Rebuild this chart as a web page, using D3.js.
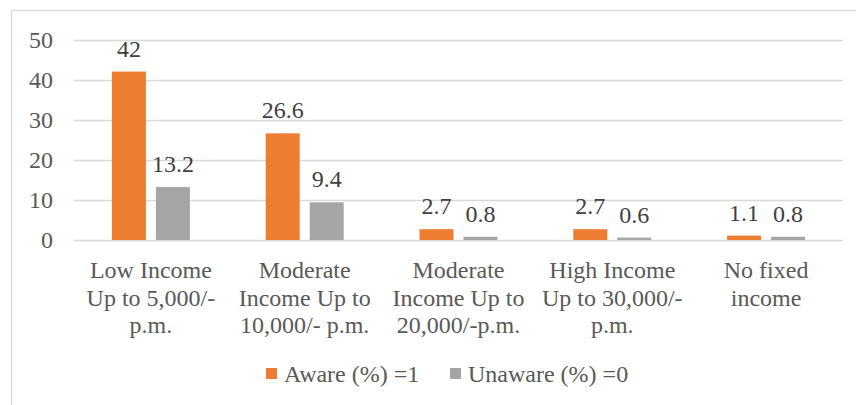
<!DOCTYPE html>
<html>
<head>
<meta charset="utf-8">
<script src="https://cdn.jsdelivr.net/npm/d3@7"></script>
<style>
  body { margin: 0; background: #fff; }
  svg, svg text { font-family: "Liberation Serif", "Times New Roman", Times, "DejaVu Serif", serif !important; }
</style>
</head>
<body>
<svg></svg>
<script>
// data
var categories = [
  ["Low Income", "Up to 5,000/-", "p.m."],
  ["Moderate", "Income Up to", "10,000/- p.m."],
  ["Moderate", "Income Up to", "20,000/-p.m."],
  ["High Income", "Up to 30,000/-", "p.m."],
  ["No fixed", "income"]
];
var aware = [42, 26.6, 2.7, 2.7, 1.1];
var unaware = [13.2, 9.4, 0.8, 0.6, 0.8];
var seriesNames = ["Aware (%) =1", "Unaware (%) =0"];
var yTicks = [0, 10, 20, 30, 40, 50];

var svgWidth = 856, svgHeight = 405;
var colors = ["#ED7D31", "#A5A5A5"];
var fontSize = "24px";

var svg = d3.select("svg").attr("width", svgWidth).attr("height", svgHeight);

// chart border (only top and left fall inside the picture)
svg.append("rect")
  .attr("x", 11.5).attr("y", 10.5)
  .attr("width", 900).attr("height", 450)
  .attr("fill", "none").attr("stroke", "#d9d9d9").attr("stroke-width", 1.5);

var plotLeft = 74, plotRight = 843, plotTop = 39.5, plotBottom = 240;

var x0 = d3.scaleBand().domain(d3.range(categories.length)).range([plotLeft, plotRight]);
var y = d3.scaleLinear().domain([0, 50]).range([plotBottom, plotTop]);

// gridlines
svg.append("g").selectAll("line")
  .data(yTicks).enter().append("line")
  .attr("x1", plotLeft).attr("x2", plotRight)
  .attr("y1", function(d) { return Math.round(y(d)) + 0.5; })
  .attr("y2", function(d) { return Math.round(y(d)) + 0.5; })
  .attr("stroke", "#d9d9d9").attr("stroke-width", 1.5);

// y axis labels
var yAxis = d3.axisLeft(y).tickValues(yTicks).tickSize(0).tickPadding(0);
var yg = svg.append("g").attr("transform", "translate(53,0)").call(yAxis);
yg.select(".domain").remove();
yg.attr("font-family", null).attr("font-size", null);
yg.selectAll("text")
  .attr("font-size", fontSize).attr("fill", "#595959");

var barW = 34, gap = 10;
var series = [aware, unaware];

series.forEach(function(vals, s) {
  var offset = s === 0 ? -(gap / 2 + barW) : gap / 2;
  var g = svg.append("g");
  g.selectAll("rect")
    .data(vals).enter().append("rect")
    .attr("x", function(d, i) { return x0(i) + x0.bandwidth() / 2 + offset; })
    .attr("y", function(d) { return y(d); })
    .attr("width", barW)
    .attr("height", function(d) { return plotBottom - y(d); })
    .attr("fill", colors[s]);
  g.selectAll("text")
    .data(vals).enter().append("text")
    .attr("x", function(d, i) { return x0(i) + x0.bandwidth() / 2 + offset + barW / 2; })
    .attr("y", function(d) { return y(d) - 15; })
    .attr("text-anchor", "middle")
    .attr("font-size", fontSize).attr("fill", "#404040")
    .text(function(d) { return d; });
});

// category labels
var cg = svg.append("g");
categories.forEach(function(lines, i) {
  var t = cg.append("text")
    .attr("x", x0(i) + x0.bandwidth() / 2)
    .attr("y", 278)
    .attr("text-anchor", "middle")
    .attr("font-size", fontSize).attr("fill", "#595959");
  lines.forEach(function(l, j) {
    t.append("tspan")
      .attr("x", x0(i) + x0.bandwidth() / 2)
      .attr("dy", j === 0 ? 0 : 27.5)
      .text(l);
  });
});

// legend
var legendX = [266, 450];
seriesNames.forEach(function(name, s) {
  svg.append("rect")
    .attr("x", legendX[s]).attr("y", 368)
    .attr("width", 11).attr("height", 11)
    .attr("fill", colors[s]);
  svg.append("text")
    .attr("x", legendX[s] + 18).attr("y", 382)
    .attr("font-size", fontSize).attr("fill", "#595959")
    .text(name);
});
</script>
</body>
</html>
